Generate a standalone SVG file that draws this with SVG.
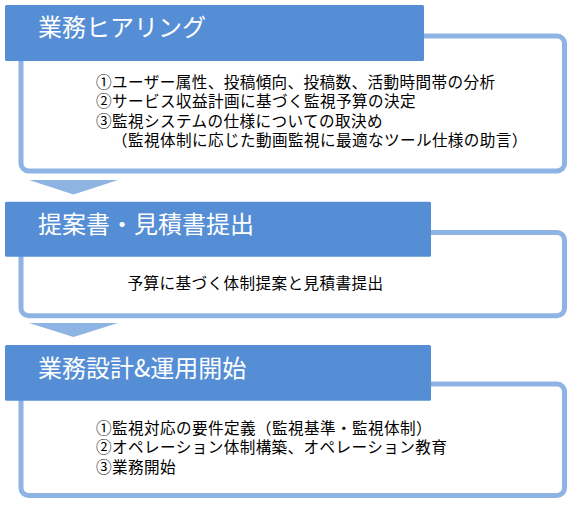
<svg xmlns="http://www.w3.org/2000/svg" width="578" height="507" viewBox="0 0 578 507">
  <style>
    .box { fill: #FFFFFF; stroke: #8EB4E3; stroke-width: 5; }
    .hdr { fill: #558ED5; }
    .title { font-family: "Noto Sans CJK JP", "Noto Sans CJK SC", sans-serif; font-size: 24px; fill: #FFFFFF; }
    .body { font-family: "Noto Sans CJK JP", "Noto Sans CJK SC", sans-serif; font-size: 15.6px; letter-spacing: 0.4px; fill: #000000; }
    .arrow { fill: #8EB4E3; }
  </style>
  <rect x="0" y="0" width="578" height="507" fill="#FFFFFF"/>

  <g id="connectors">
    <polygon class="arrow" points="29,180 118,180 73.5,194.5"/>
    <polygon class="arrow" points="29,323 118,323 73.5,337"/>
  </g>

  <g id="step1">
    <rect class="box" x="21" y="36" width="543.5" height="135" rx="7.5" ry="7.5"/>
    <rect class="hdr" x="5" y="5" width="419" height="56" rx="1.5" ry="1.5"/>
    <text class="title" x="38" y="35.5">業務ヒアリング</text>
    <text class="body" x="96" y="87.8">①ユーザー属性、投稿傾向、投稿数、活動時間帯の分析</text>
    <text class="body" x="96" y="107.2">②サービス収益計画に基づく監視予算の決定</text>
    <text class="body" x="96" y="126.6">③監視システムの仕様についての取決め</text>
    <text class="body" x="112" y="146">（監視体制に応じた動画監視に最適なツール仕様の助言）</text>
  </g>

  <g id="step2">
    <rect class="box" x="21" y="232.5" width="543.5" height="83.3" rx="7.5" ry="7.5"/>
    <rect class="hdr" x="5" y="201.7" width="426" height="55" rx="1.5" ry="1.5"/>
    <text class="title" x="38" y="233">提案書・見積書提出</text>
    <text class="body" x="127.5" y="289">予算に基づく体制提案と見積書提出</text>
  </g>

  <g id="step3">
    <rect class="box" x="21" y="384" width="543.5" height="111.5" rx="7.5" ry="7.5"/>
    <rect class="hdr" x="5" y="345" width="426" height="55.7" rx="1.5" ry="1.5"/>
    <text class="title" x="38" y="376.5">業務設計&amp;運用開始</text>
    <text class="body" x="96" y="434">①監視対応の要件定義（監視基準・監視体制）</text>
    <text class="body" x="96" y="453.3">②オペレーション体制構築、オペレーション教育</text>
    <text class="body" x="96" y="472.6">③業務開始</text>
  </g>
</svg>
